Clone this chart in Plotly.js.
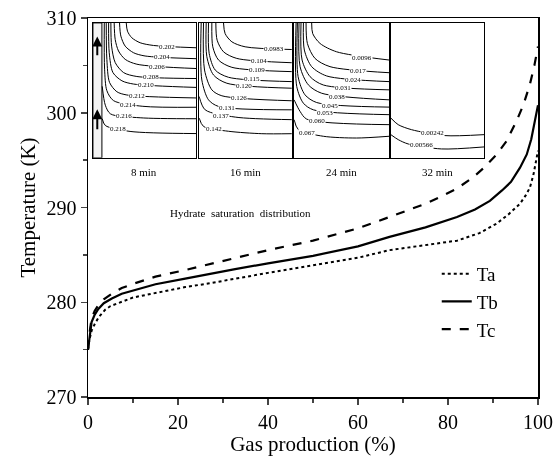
<!DOCTYPE html>
<html>
<head>
<meta charset="utf-8">
<script src="https://cdn.plot.ly/plotly-3.0.1.min.js"></script>
<style>
html,body{margin:0;padding:0;background:#fff;}
#chart{width:556px;height:465px;}
#chart svg{will-change:transform;-webkit-font-smoothing:antialiased;}
</style>
</head>
<body>
<div id="chart"></div>
<script>
// ---------- main chart data ----------
const seriesNames = ['Ta', 'Tb', 'Tc'];
const taX = [0, 0.3, 0.8, 1.6, 2.5, 3.8, 5, 6.7, 10, 14.2, 21.6, 27, 32.7, 40, 50, 60, 67, 75, 82, 87, 90.8, 93.5, 96, 97.3, 98.2, 99, 99.7, 100];
const taY = [275.0, 276.0, 277.0, 277.8, 278.5, 279.2, 279.6, 279.9, 280.5, 280.9, 281.6, 282.0, 282.5, 283.1, 283.9, 284.7, 285.5, 286.0, 286.5, 287.3, 288.3, 289.3, 290.4, 291.3, 292.1, 293.5, 295.0, 296.0];
const tbX = [0, 0.3, 0.8, 1.5, 2.3, 3.5, 5.3, 7.5, 10.4, 15, 21.6, 27, 32.7, 40, 50, 60, 67, 75, 82, 86, 89.3, 92, 94, 96, 97.5, 98.5, 99.3, 100];
const tbY = [275.0, 276.3, 277.9, 278.7, 279.3, 279.9, 280.4, 280.9, 281.3, 281.9, 282.5, 283.0, 283.5, 284.1, 284.9, 285.9, 286.9, 287.9, 289.0, 289.8, 290.7, 291.8, 292.7, 294.2, 295.6, 297.2, 299.0, 300.8];
const tcX = [0, 0.3, 0.8, 1.5, 2.3, 3.5, 5.3, 7.5, 10.4, 15, 21.6, 27, 32.7, 40, 50, 60, 67, 75, 78.2, 82, 85.6, 88, 90.8, 93, 95.3, 96.8, 98.2, 99.2, 100];
const tcY = [275.0, 276.6, 278.3, 279.1, 279.7, 280.3, 280.9, 281.5, 282.0, 282.7, 283.4, 284.0, 284.7, 285.5, 286.5, 287.8, 289.0, 290.4, 291.1, 292.0, 293.2, 294.2, 295.6, 297.0, 299.2, 300.9, 303.0, 305.0, 307.0];

const xTicks = [0, 20, 40, 60, 80, 100];
const yTicks = [270, 280, 290, 300, 310];

// ---------- inset data (u = % of width, d = % of depth from top) ----------
const insetTimes = ['8 min', '16 min', '24 min', '32 min'];
const insetTitle = 'Hydrate&nbsp; saturation&nbsp; distribution';

const inset1Levels = ['0.202', '0.204', '0.206', '0.208', '0.210', '0.212', '0.214', '0.216', '0.218'];
const inset1U = [[32.3, 33.5, 37.7, 45.8, 58.7, 100], [25.8, 27.1, 31.3, 39.4, 50.6, 100], [20.6, 21.6, 24.8, 31.3, 42.6, 100], [17.4, 18.1, 21.6, 29.7, 42.6, 100], [15.2, 15.8, 19.4, 28.1, 39.4, 100], [12.9, 13.5, 16.1, 23.2, 32.9, 100], [11.0, 11.3, 13.5, 20.0, 48.4, 100], [9.0, 12.0, 17.0, 45.8, 100], [9.0, 12.0, 36.0, 100]];
const inset1D = [[0, 6.1, 11, 14.7, 16.7, 18.4], [0, 9.8, 17.2, 22.1, 24.5, 26.5], [0, 12.3, 20.8, 27, 30.6, 33.8], [0, 17.2, 29.4, 36.8, 39.7, 41.2], [0, 22.1, 36.8, 42.9, 45.3, 47.8], [0, 27, 44.1, 51, 53.4, 55.6], [0, 34.3, 50.2, 57.6, 61.8, 62.5], [47, 61, 67.4, 70.3, 71], [71, 76, 80.4, 82]];
const inset1LabU = [72, 67, 62, 56, 51, 43, 34, 30, 24];
const inset1LabD = [17.6, 25.2, 32.4, 40.4, 46.1, 54.4, 60.5, 69, 78.4];

const inset2Levels = ['0.0983', '0.104', '0.109', '0.115', '0.120', '0.126', '0.131', '0.137', '0.142'];
const inset2U = [[26.3, 28, 35.3, 49.6, 100], [18, 19.4, 26.3, 40.6, 100], [13.7, 14.7, 20.9, 35.3, 100], [10.1, 10.8, 17.3, 31.7, 100], [7.6, 8.3, 15.5, 29.9, 100], [4.7, 5.8, 13.7, 24.5, 100], [2.2, 2.9, 10.1, 20.9, 100], [0, 6.5, 39, 100], [0, 4.7, 31.7, 67.6, 100]];
const inset2D = [[0, 7.9, 14, 17.7, 19.7], [0, 12.8, 21.4, 26.3, 29.5], [0, 17.7, 27.5, 32.9, 36.1], [0, 22.6, 34.9, 40.3, 43.5], [0, 25, 38.6, 44.7, 48.4], [0, 34.9, 49.6, 54, 57.7], [0, 42.3, 57, 61.9, 64.4], [54.5, 64.4, 69.8, 71.7], [70.5, 76.7, 80.3, 82.1, 82.1]];
const inset2LabU = [81, 65, 62, 57, 48, 43, 30, 24, 16];
const inset2LabD = [19.4, 28, 35, 41.8, 47, 55.8, 63.1, 69, 78.4];

const inset3Levels = ['0.0096', '0.017', '0.024', '0.031', '0.038', '0.045', '0.053', '0.060', '0.067'];
const inset3U = [[18.5, 19.6, 27.3, 44.8, 100], [12.6, 14, 22, 37.8, 100], [9.8, 10.8, 18.5, 34.3, 100], [7.3, 8.4, 16.8, 30.8, 100], [5.2, 6.3, 15, 29, 100], [3.5, 4.2, 11.5, 23.8, 100], [2.1, 2.8, 9.8, 20.3, 100], [0, 6.3, 13.3, 100], [0, 4.5, 30.8, 65.7, 100]];
const inset3D = [[0, 7.9, 15.2, 21.4, 27.5], [0, 15.2, 26.3, 32.4, 36.9], [0, 20.1, 32.4, 39.3, 43.5], [0, 27.5, 39.8, 46, 49.6], [0, 32.4, 45.9, 52.1, 57], [0, 39.8, 53.3, 59, 62.4], [0, 47.2, 59.5, 64.4, 68], [57, 65.6, 71.3, 75.4], [71.7, 79.1, 84, 85.3, 84]];
const inset3LabU = [71, 67, 62, 52, 45, 38, 33, 24, 14];
const inset3LabD = [26.3, 35.4, 42.3, 48.4, 55, 61.4, 67, 73, 81.6];

const inset4Levels = ['0.00242', '0.00566'];
const inset4U = [[0, 7.9, 22.1, 57.9, 100], [0, 7.9, 18.6, 54.3, 100]];
const inset4D = [[70.5, 75.4, 79.1, 83.5, 82.8], [82.8, 86.5, 89.7, 93.4, 91.9]];
const inset4LabU = [45, 33];
const inset4LabD = [81.6, 90.2];

// ---------- build ----------
const FONT = '"Liberation Serif", "Times New Roman", Times, serif';
const traces = [
  {x: taX, y: taY, name: seriesNames[0], mode: 'lines', line: {color: '#000', width: 2, dash: 'dot'}},
  {x: tbX, y: tbY, name: seriesNames[1], mode: 'lines', line: {color: '#000', width: 2.2, dash: 'solid'}},
  {x: tcX, y: tcY, name: seriesNames[2], mode: 'lines', line: {color: '#000', width: 2.2, dash: 'dash'}}
];

const insets = [
  {lv: inset1Levels, U: inset1U, D: inset1D, lu: inset1LabU, ld: inset1LabD},
  {lv: inset2Levels, U: inset2U, D: inset2D, lu: inset2LabU, ld: inset2LabD},
  {lv: inset3Levels, U: inset3U, D: inset3D, lu: inset3LabU, ld: inset3LabD},
  {lv: inset4Levels, U: inset4U, D: inset4D, lu: inset4LabU, ld: inset4LabD}
];
const insetXDomains = [[0.011, 0.24], [0.247, 0.453], [0.458, 0.669], [0.673, 0.88]];
const insetYDomain = [0.631, 0.987];

const layout = {
  width: 556, height: 465,
  margin: {l: 88, r: 18, t: 18, b: 68},
  paper_bgcolor: '#fff', plot_bgcolor: '#fff',
  font: {family: FONT, color: '#000', size: 20},
  showlegend: true,
  legend: {x: 0.775, y: 0.375, xanchor: 'left', yanchor: 'top', bgcolor: 'rgba(0,0,0,0)', font: {family: FONT, size: 19}, tracegroupgap: 0, itemwidth: 30},
  xaxis: {
    range: [0, 100], tickvals: xTicks, ticktext: xTicks.map(String), ticks: 'outside', ticklen: 6, tickwidth: 1.5,
    showline: true, linewidth: 1.5, linecolor: '#000', mirror: true, showgrid: false, zeroline: false,
    minor: {tickvals: [10, 30, 50, 70, 90], ticks: 'outside', ticklen: 4, tickwidth: 1.5, showgrid: false},
    tickfont: {family: FONT, size: 20}, title: {text: 'Gas production (%)', font: {family: FONT, size: 21}, standoff: 5}
  },
  yaxis: {
    range: [270, 310], tickvals: yTicks, ticktext: yTicks.map(String), ticks: 'outside', ticklen: 6, tickwidth: 1.5,
    showline: true, linewidth: 1.5, linecolor: '#000', mirror: true, showgrid: false, zeroline: false,
    minor: {tickvals: [275, 285, 295, 305], ticks: 'outside', ticklen: 4, tickwidth: 1.5, showgrid: false},
    tickfont: {family: FONT, size: 20}, title: {text: 'Temperature (K)', font: {family: FONT, size: 21}, standoff: 5}
  },
  annotations: [],
  shapes: []
};

insets.forEach((ins, i) => {
  const n = i + 2;
  const xa = 'x' + n, ya = 'y' + n;
  layout['xaxis' + n] = {domain: insetXDomains[i], anchor: ya, range: [0, 100], showline: true, mirror: true, linewidth: 1, linecolor: '#000', ticks: '', showticklabels: false, showgrid: false, zeroline: false, fixedrange: true};
  layout['yaxis' + n] = {domain: insetYDomain, anchor: xa, range: [100, 0], showline: true, mirror: true, linewidth: 1, linecolor: '#000', ticks: '', showticklabels: false, showgrid: false, zeroline: false, fixedrange: true};
  ins.lv.forEach((lv, k) => {
    traces.push({x: ins.U[k], y: ins.D[k], xaxis: xa, yaxis: ya, mode: 'lines', line: {color: '#000', width: 1, shape: 'spline', smoothing: 0.8}, showlegend: false, hoverinfo: 'skip'});
    layout.annotations.push({xref: xa, yref: ya, x: ins.lu[k], y: ins.ld[k], text: lv, showarrow: false, font: {family: FONT, size: 7, color: '#000'}, bgcolor: '#fff', borderpad: 0});
  });
  layout.annotations.push({xref: xa + ' domain', yref: ya + ' domain', x: 0.5, y: -0.045, xanchor: 'center', yanchor: 'top', text: insetTimes[i], showarrow: false, font: {family: FONT, size: 11}});
});

// gray strip and arrows in first inset
layout.shapes.push({type: 'rect', xref: 'x2', yref: 'y2', x0: 0, x1: 8.7, y0: 0, y1: 100, fillcolor: '#f3f3f3', line: {color: '#000', width: 1}, layer: 'below'});
layout.annotations.push({xref: 'x2', yref: 'y2', axref: 'x2', ayref: 'y2', x: 4.2, y: 10, ax: 4.2, ay: 25, text: '', showarrow: true, arrowhead: 2, arrowsize: 1, arrowwidth: 2, arrowcolor: '#000'});
layout.annotations.push({xref: 'x2', yref: 'y2', axref: 'x2', ayref: 'y2', x: 4.2, y: 64, ax: 4.2, ay: 80, text: '', showarrow: true, arrowhead: 2, arrowsize: 1, arrowwidth: 2, arrowcolor: '#000'});
layout.annotations.push({xref: 'paper', yref: 'paper', x: 0.338, y: 0.485, xanchor: 'center', yanchor: 'middle', text: insetTitle, showarrow: false, font: {family: FONT, size: 11}});

Plotly.newPlot('chart', traces, layout, {staticPlot: true, displayModeBar: false});
</script>
</body>
</html>
